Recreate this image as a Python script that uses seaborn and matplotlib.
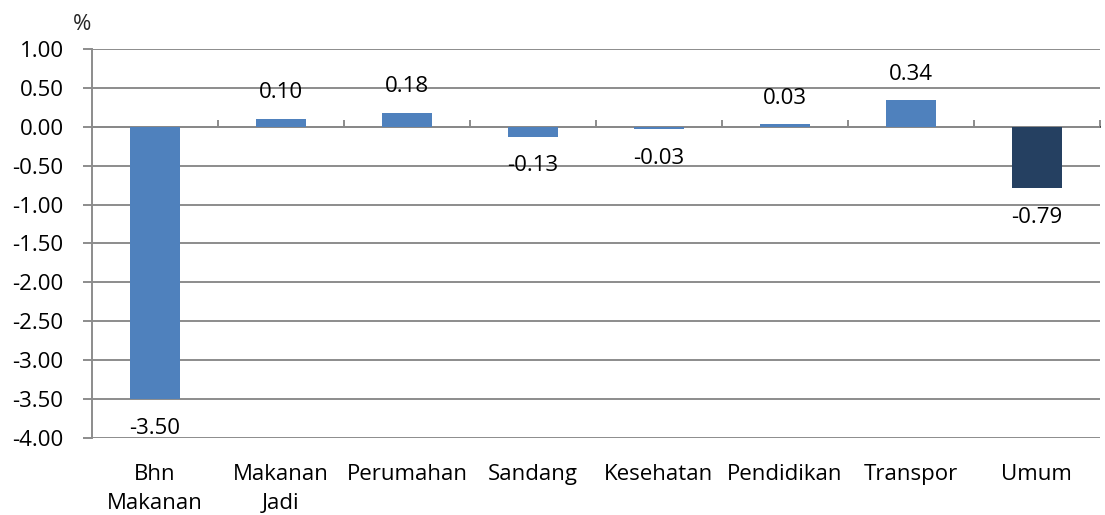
import matplotlib
matplotlib.use("Agg")
import matplotlib.pyplot as plt
import seaborn as sns
import pandas as pd
import numpy as np

categories = ["Bhn\nMakanan", "Makanan\nJadi", "Perumahan", "Sandang",
              "Kesehatan", "Pendidikan", "Transpor", "Umum"]
values = [-3.50, 0.10, 0.18, -0.13, -0.03, 0.03, 0.34, -0.79]
bar_colors = ["#4F81BD"] * 7 + ["#254061"]
y_ticks = [1.0, 0.5, 0.0, -0.5, -1.0, -1.5, -2.0, -2.5, -3.0, -3.5, -4.0]

sns.set_theme(style="white")
plt.rcParams["font.family"] = ["Open Sans", "DejaVu Sans"]
FS = 16

df = pd.DataFrame({"kategori": categories, "nilai": values})

fig = plt.figure(figsize=(11.05, 5.15), dpi=100)
ax = fig.add_axes([0.0833, 0.1495, 0.912, 0.7555])

sns.barplot(data=df, x="kategori", y="nilai", hue="kategori",
            palette=bar_colors, legend=False, width=0.4, ax=ax,
            saturation=1, linewidth=0, zorder=3)

grid_color = "#8c8c8c"
ax.set_ylim(-4.0, 1.0)
ax.set_xlim(-0.5, len(categories) - 0.5)
ax.set_yticks(y_ticks)
ax.set_yticklabels([f"{t:.2f}" for t in y_ticks], fontsize=FS)
for t in y_ticks:
    ax.axhline(t, color=grid_color, lw=1.4, zorder=1)

for side in ["top", "right", "bottom"]:
    ax.spines[side].set_visible(False)
ax.spines["left"].set_color(grid_color)
ax.spines["left"].set_linewidth(1.4)
ax.tick_params(axis="y", which="major", direction="out", length=6.5,
               width=1.4, color=grid_color, left=True, pad=14, labelcolor="black")

# category labels under the plot
ax.set_xticks(range(len(categories)))
ax.set_xticklabels(categories, fontsize=FS, linespacing=1.45)
ax.tick_params(axis="x", length=0, pad=19, labelcolor="black")
ax.set_xlabel("")
ax.set_ylabel("")

# category-boundary ticks on the zero line
zero_frac = (0 - (-4.0)) / 5.0
sec = ax.secondary_xaxis(zero_frac)
sec.set_xticks(np.arange(-0.5, len(categories) - 0.4, 1.0))
sec.set_xticklabels([])
sec.spines["bottom"].set_visible(False)
sec.tick_params(axis="x", direction="out", length=5, width=1.4, color=grid_color)

# value labels
for i, v in enumerate(values):
    dy = 26 if v >= 0 else -29
    ax.annotate(f"{v:.2f}", (i, v), xytext=(0, dy), textcoords="offset pixels",
                ha="center", va="center", fontsize=FS, color="black")

fig.text(82 / 1105, 1 - 25 / 515, "%", fontsize=FS, ha="center", va="center")

fig.savefig("out.png", dpi=100)
